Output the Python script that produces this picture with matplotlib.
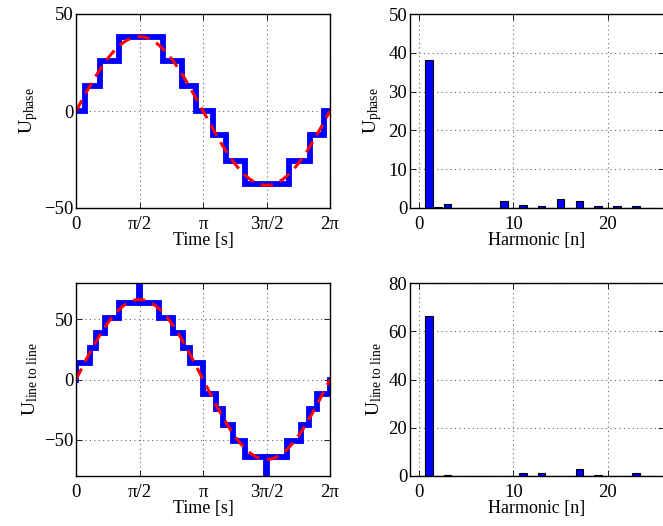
import numpy as np
import matplotlib
matplotlib.use("Agg")
import matplotlib.pyplot as plt

plt.rcParams['font.family'] = ['Liberation Serif', 'DejaVu Serif']
plt.rcParams['mathtext.fontset'] = 'custom'
plt.rcParams['mathtext.rm'] = 'Liberation Serif'
plt.rcParams['mathtext.it'] = 'Liberation Serif:italic'
plt.rcParams['font.size'] = 11

# ---- data ----
# phase voltage staircase: switching angles (deg) and level after each switch
phase_angles = [0, 13, 34, 61, 123, 150, 170, 194, 213, 240, 302.5, 331, 351, 360]
phase_levels = [0, 12.9, 26.0, 38.4, 26.0, 12.9, 0, -12.4, -25.7, -37.8, -25.7, -12.4, 0, 0]
phase_fund_amp = 38.3

# line-to-line staircase (with spikes at pi/2 and 3pi/2)
ll_angles = [0, 0.4, 20, 29, 41, 61, 89.6, 90.4, 118, 138, 152, 162, 180, 198.5, 208,
             222, 239.6, 269.6, 270.4, 298.8, 318.7, 330.8, 341.3, 359.6, 360]
ll_levels = [0, 13.3, 26.0, 38.6, 51.0, 63.5, 78.5, 63.5, 51.0, 38.6, 26.0, 13.3, -12.4,
             -24.8, -38.0, -51.0, -63.9, -79.0, -63.9, -51.0, -38.0, -24.8, -12.4, 0, 0]
ll_fund_amp = 66.3

harmonics = list(range(26))
phase_spectrum = [0, 38.2, 0.2, 1.1, 0, 0, 0, 0, 0, 1.8, 0, 0.8, 0, 0.6, 0, 2.3, 0, 1.7,
                  0, 0.4, 0, 0.5, 0, 0.6, 0, 0]
ll_spectrum = [0, 66.5, 0.2, 0.4, 0, 0, 0, 0, 0, 0, 0, 1.3, 0, 1.3, 0, 0, 0, 2.9,
               0, 0.6, 0, 0, 0, 1.1, 0, 0]

time_ticks = [0, np.pi / 2, np.pi, 3 * np.pi / 2, 2 * np.pi]
time_ticklabels = ['0', 'π/2', 'π', '3π/2', '2π']

fig = plt.figure(figsize=(6.63, 5.26), dpi=100)

W = 254 / 663
axTL = fig.add_axes([76 / 663, 1 - 208 / 526, W, 194 / 526])
axTR = fig.add_axes([410 / 663, 1 - 208 / 526, W, 194 / 526])
axBL = fig.add_axes([76 / 663, 1 - 476 / 526, W, 193 / 526])
axBR = fig.add_axes([410 / 663, 1 - 476 / 526, W, 193 / 526])


def style(ax):
    ax.tick_params(direction='in', top=True, right=True, length=4, width=0.6,
                   labelsize=13.5)
    ax.tick_params(axis='x', pad=6)
    ax.tick_params(axis='y', pad=2)
    ax.grid(True, linestyle=(0, (1, 3)), color='#666666', linewidth=0.8)
    ax.set_axisbelow(True)
    for s in ax.spines.values():
        s.set_linewidth(1.0)


def time_plot(ax, angles, levels, amp, ylim, yticks, ylabel):
    t = np.deg2rad(angles)
    ax.step(t, levels, where='post', color='#0000ff', linewidth=4.2,
            solid_joinstyle='miter')
    tt = np.linspace(0, 2 * np.pi, 400)
    ax.plot(tt, amp * np.sin(tt), color='#ff0000', linewidth=2.2,
            dashes=(4, 2.5))
    ax.set_xlim(0, 2 * np.pi)
    ax.set_ylim(*ylim)
    ax.set_yticks(yticks)
    ax.set_xticks(time_ticks)
    ax.set_xticklabels(time_ticklabels)
    ax.set_xlabel('Time [s]', fontsize=13, labelpad=-1)
    ax.set_ylabel(ylabel, fontsize=14, labelpad=3)
    style(ax)


def bar_plot(ax, vals, ylim, yticks, ylabel):
    ax.bar(harmonics, vals, width=0.8, color='#0000ff', edgecolor='black',
           linewidth=0.8)
    ax.set_xlim(-1, 26)
    ax.set_ylim(*ylim)
    ax.set_yticks(yticks)
    ax.set_xticks([0, 10, 20])
    ax.set_xlabel('Harmonic [n]', fontsize=13, labelpad=-1)
    ax.set_ylabel(ylabel, fontsize=14, labelpad=3)
    style(ax)


time_plot(axTL, phase_angles, phase_levels, phase_fund_amp, (-50, 50), [-50, 0, 50],
          r'U$_{\mathrm{phase}}$')
time_plot(axBL, ll_angles, ll_levels, ll_fund_amp, (-80, 80), [-50, 0, 50],
          r'U$_{\mathrm{line\ to\ line}}$')
bar_plot(axTR, phase_spectrum, (0, 50), [0, 10, 20, 30, 40, 50], r'U$_{\mathrm{phase}}$')
bar_plot(axBR, ll_spectrum, (0, 80), [0, 20, 40, 60, 80], r'U$_{\mathrm{line\ to\ line}}$')

fig.savefig('out.png', dpi=100)
